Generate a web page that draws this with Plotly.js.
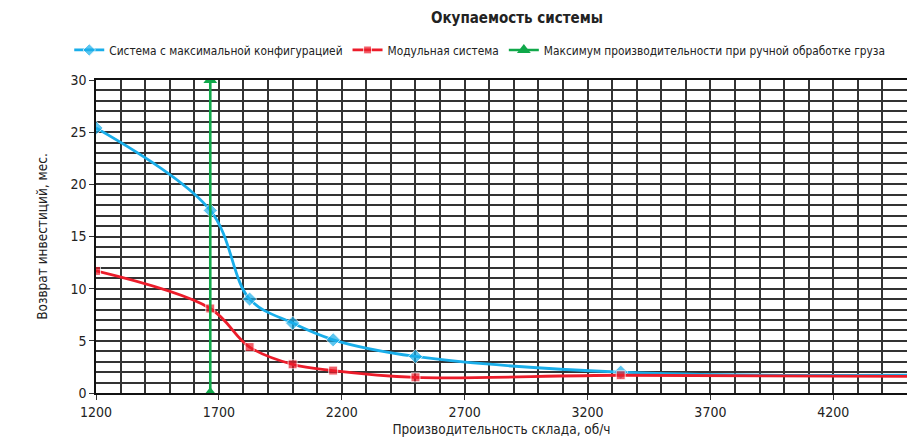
<!DOCTYPE html>
<html>
<head>
<meta charset="utf-8">
<script src="https://cdn.plot.ly/plotly-3.0.1.min.js"></script>
<style>
html,body{margin:0;padding:0;background:#fff;}
#chart{width:907px;height:438px;}
#chart text{font-stretch:condensed !important;}
</style>
</head>
<body>
<div id="chart"></div>
<script>
const xFull = [1200, 1665, 1825, 2000, 2165, 2500, 3335, 4500];
const yFull = [25.4, 17.5, 9.0, 6.7, 5.1, 3.5, 2.0, 1.7];
const xMod = [1200, 1665, 1825, 2000, 2165, 2500, 3335, 4500];
const yMod = [11.7, 8.1, 4.4, 2.75, 2.15, 1.5, 1.7, 1.6];
const xManual = [1665, 1665];
const yManual = [0, 30];
const markerSizesFull = [11, 11, 11, 11, 11, 11, 11, 0];
const markerSizesMod = [9, 9, 9, 9, 9, 9, 9, 0];
const names = ['Система с максимальной конфигурацией', 'Модульная система', 'Максимум производительности при ручной обработке груза'];

const FONT = '"DejaVu Sans Condensed", "DejaVu Sans", sans-serif';

const traces = [
  {x: xFull, y: yFull, name: names[0], mode: 'lines+markers', line: {color: '#19aeea', width: 2.8, shape: 'spline', smoothing: 1}, marker: {symbol: 'diamond', size: markerSizesFull, color: '#19aeea'}},
  {x: xMod, y: yMod, name: names[1], mode: 'lines+markers', line: {color: '#ec1c2a', width: 2.8, shape: 'spline', smoothing: 1}, marker: {symbol: 'square', size: markerSizesMod, color: '#ec1c2a'}},
  {x: xManual, y: yManual, name: names[2], mode: 'lines+markers', line: {color: '#10a84a', width: 2.6}, marker: {symbol: 'triangle-up', size: 12, color: '#10a84a'}}
];

const layout = {
  width: 907, height: 438,
  margin: {l: 96, r: 0, t: 80, b: 45, autoexpand: false},
  paper_bgcolor: '#fff', plot_bgcolor: '#fff',
  font: {family: FONT, size: 13, color: '#222'},
  title: {text: '<b>Окупаемость системы</b>', x: 0.57, xanchor: 'center', y: 0.96, yanchor: 'middle', font: {family: FONT, size: 15, color: '#222'}},
  showlegend: true,
  legend: {orientation: 'h', x: -0.033, xanchor: 'left', y: 1.096, yanchor: 'middle', font: {family: FONT, size: 11.8, color: '#222'}, traceorder: 'normal', itemwidth: 30},
  xaxis: {
    range: [1200, 4500], dtick: 500, tick0: 1200, showgrid: true, gridcolor: '#333', gridwidth: 1.5,
    ticks: 'outside', ticklen: 5, tickcolor: '#333',
    showline: true, linecolor: '#111', linewidth: 2, mirror: true, zeroline: false,
    minor: {dtick: 100, tick0: 1200, showgrid: true, gridcolor: '#333', gridwidth: 1.5},
    tickfont: {family: FONT, size: 14, color: '#222'},
    title: {text: 'Производительность склада, об/ч', font: {family: FONT, size: 13.5, color: '#222'}, standoff: 6}
  },
  yaxis: {
    range: [0, 30], dtick: 5, showgrid: true, gridcolor: '#333', gridwidth: 1.5,
    ticks: 'outside', ticklen: 5, tickcolor: '#333',
    showline: true, linecolor: '#111', linewidth: 1.5, zeroline: false,
    minor: {dtick: 1, showgrid: true, gridcolor: '#333', gridwidth: 1.5},
    tickfont: {family: FONT, size: 14, color: '#222'},
    title: {text: 'Возврат инвестиций, мес.', font: {family: FONT, size: 13.5, color: '#222'}, standoff: 20}
  }
};

Plotly.newPlot('chart', traces, layout, {displayModeBar: false, responsive: false});
</script>
</body>
</html>
